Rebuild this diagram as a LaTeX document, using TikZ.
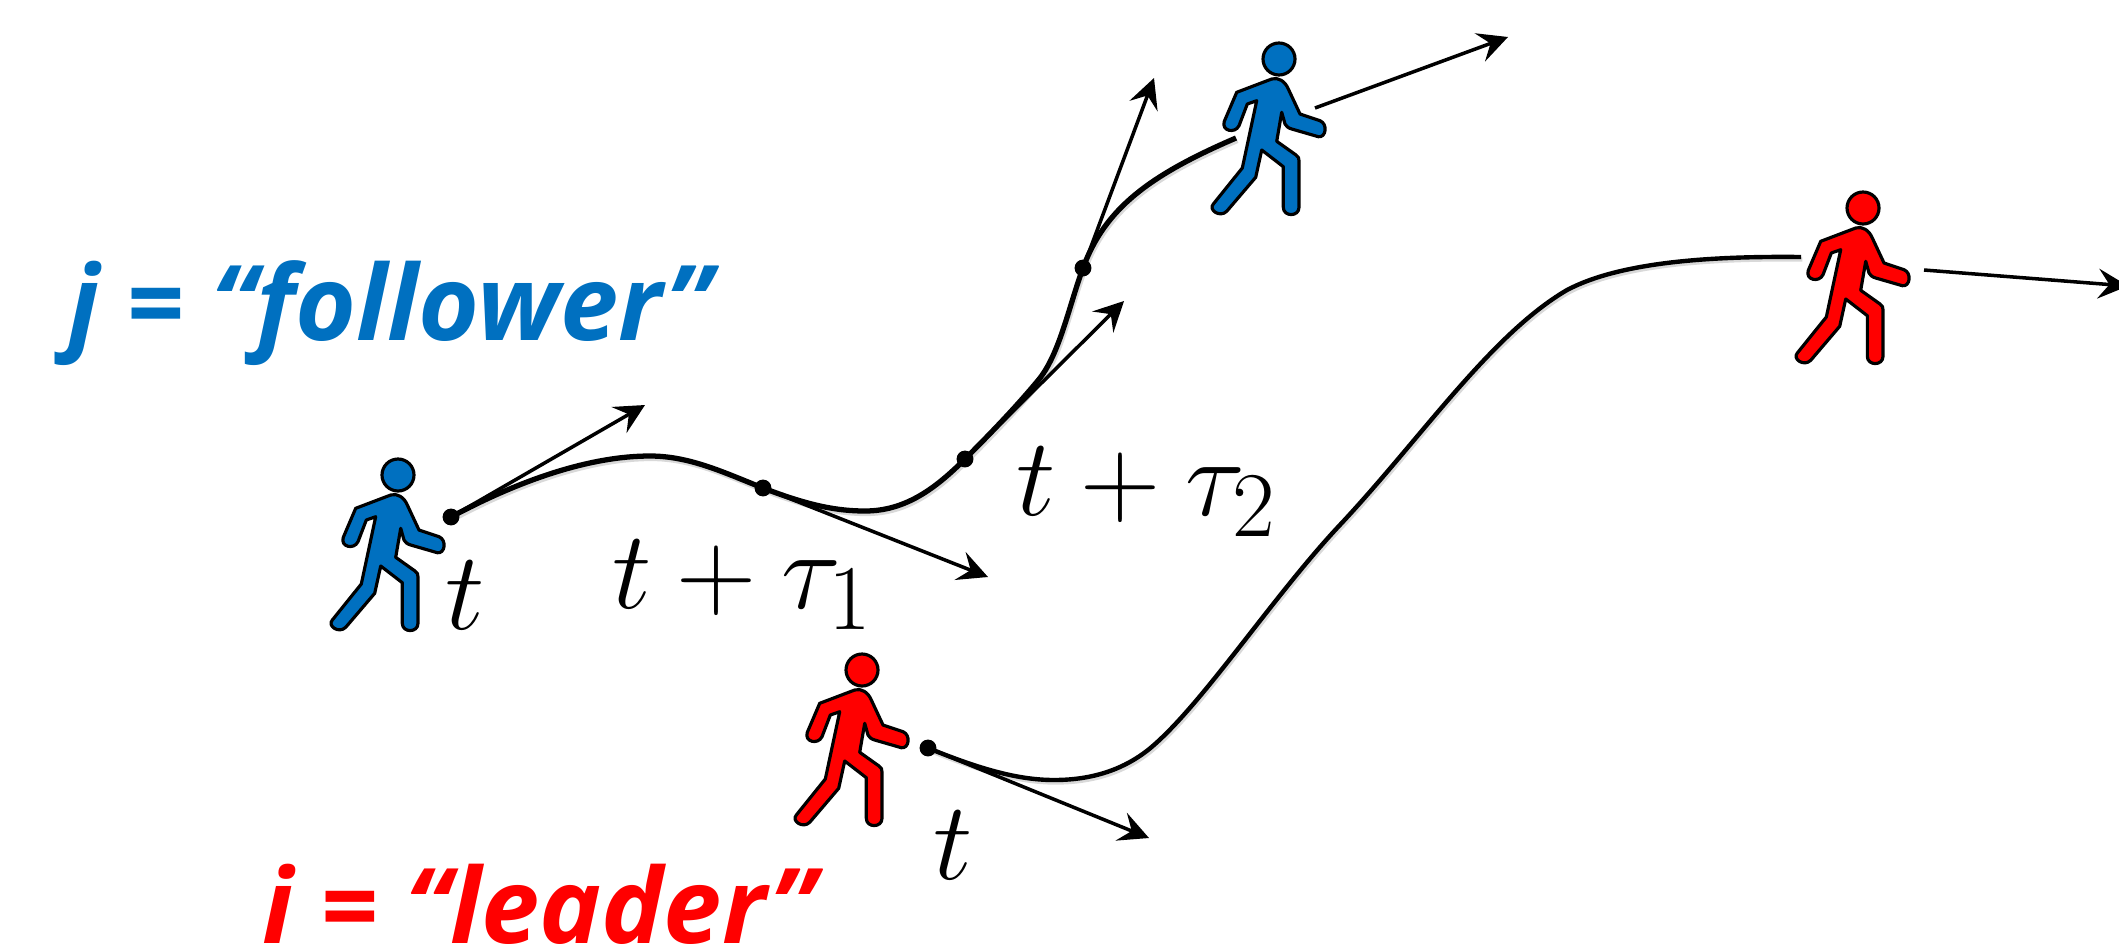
\documentclass[tikz,border=0pt]{standalone}
\usepackage{fontspec}
\setsansfont{Open Sans}
\usepackage{amsmath}
\usetikzlibrary{arrows.meta}
\definecolor{walkblue}{HTML}{0070C0}
\tikzset{
  walker/.pic={
    \filldraw[fill=#1, draw=black, line width=0.9pt] (0,0) circle (16);
    \filldraw[fill=#1, draw=black, line width=0.9pt, line join=round]
      (-42.3,33.3) -- (-7.3,20) .. controls (-1,18) and (6,22) .. (9.3,30) -- (21,55) -- (41,61.7)
      .. controls (49,65) and (47,79) .. (39.3,77.7) -- (12.7,70) .. controls (9,69) and (7,67) .. (6,65)
      -- (2.7,53.3) -- (-2.3,82.3) -- (17,96) .. controls (19.5,98) and (20,99) .. (20,102) -- (20,148.3)
      .. controls (20,158) and (4.3,158) .. (4.3,148.3) -- (4.3,107.7) -- (-17.3,91) -- (-23.3,118.3)
      -- (-52.3,152.3) .. controls (-59,159) and (-71,151) .. (-65.7,145) -- (-36.7,109) -- (-22.3,41.7)
      -- (-31.7,45) -- (-40,66.7) .. controls (-44,75) and (-58,72) .. (-54.7,62.3) -- cycle;
  },
  velarrow/.style={-{Stealth[length=8.5pt,width=8.5pt,inset=3.2pt]}, line width=1pt},
  pathline/.style={line width=#1, preaction={draw=black!15, line width=#1, transform canvas={shift={(0.4pt,-0.7pt)}}}},
  dotmark/.style={circle, fill=black, inner sep=0pt, minimum size=4.8pt},
  timelabel/.style={font=\Huge, scale=1.27},
  rolelabel/.style={font=\fontsize{29.7}{36}\selectfont\sffamily\bfseries\itshape, inner sep=0pt, anchor=base west},
}
\begin{document}
\begin{tikzpicture}[x=0.01cm, y=-0.01cm]
  \useasboundingbox (0,0) rectangle (2119,951);
  % walking figures
  \pic at (398,475) {walker=walkblue};
  \pic at (1279,59) {walker=walkblue};
  \pic at (862,670) {walker=red};
  \pic at (1863,208) {walker=red};
  % points on the two paths
  \coordinate (jstart) at (451,517);
  \coordinate (jone) at (763,488);
  \coordinate (jtwo) at (965,459);
  \coordinate (jthree) at (1083,268);
  \coordinate (istart) at (928,748);
  \coordinate (jend) at (1236,138);
  \coordinate (iend) at (1801,257);
  % paths
  \draw[pathline=1.5pt] (jstart) .. controls (520,480) and (590,456) .. (650,456)
    .. controls (690,456) and (725,473) .. (jone)
    .. controls (800,502) and (830,511) .. (865,511)
    .. controls (905,511) and (935,489) .. (jtwo)
    .. controls (990,434) and (1018,405) .. (1040,378)
    .. controls (1060,352) and (1069,306) .. (jthree)
    .. controls (1105,208) and (1150,175) .. (jend);
  \draw[pathline=1.25pt] (istart) .. controls (975,767) and (1015,780) .. (1054,780)
    .. controls (1095,780) and (1125,768) .. (1148,750)
    .. controls (1200,708) and (1270,600) .. (1338,527)
    .. controls (1420,440) and (1490,335) .. (1567,290)
    .. controls (1620,262) and (1710,256) .. (iend);
  \foreach \p in {jstart,jone,jtwo,jthree,istart}{ \node[dotmark] (\p dot) at (\p) {}; }
  % velocity arrows
  \coordinate (vjstart) at (645,405);
  \coordinate (vjone) at (988,577);
  \coordinate (vjtwo) at (1124,301);
  \coordinate (vjthree) at (1154,78);
  \coordinate (vjendfrom) at (1315,108);
  \coordinate (vjend) at (1508,37);
  \coordinate (viendfrom) at (1924,270);
  \coordinate (viend) at (2128,286);
  \coordinate (vistart) at (1149,838);
  \draw[velarrow] (jstart) -- (vjstart);
  \draw[velarrow] (jone) -- (vjone);
  \draw[velarrow] (jtwo) -- (vjtwo);
  \draw[velarrow] (jthree) -- (vjthree);
  \draw[velarrow] (vjendfrom) -- (vjend);
  \draw[velarrow] (viendfrom) -- (viend);
  \draw[velarrow] (istart) -- (vistart);
  % labels
  \node[timelabel] (tj) at (465,595) {$t$};
  \node[timelabel] (tjone) at (743,585) {$t+\tau_1$};
  \node[timelabel] (tjtwo) at (1147,492) {$t+\tau_2$};
  \node[timelabel] (ti) at (953,845) {$t$};
  \node[rolelabel, text=walkblue] (follower) at (68,340) {j = “follower”};
  \node[rolelabel, text=red] (leader) at (262,943) {i = “leader”};
\end{tikzpicture}
\end{document}
